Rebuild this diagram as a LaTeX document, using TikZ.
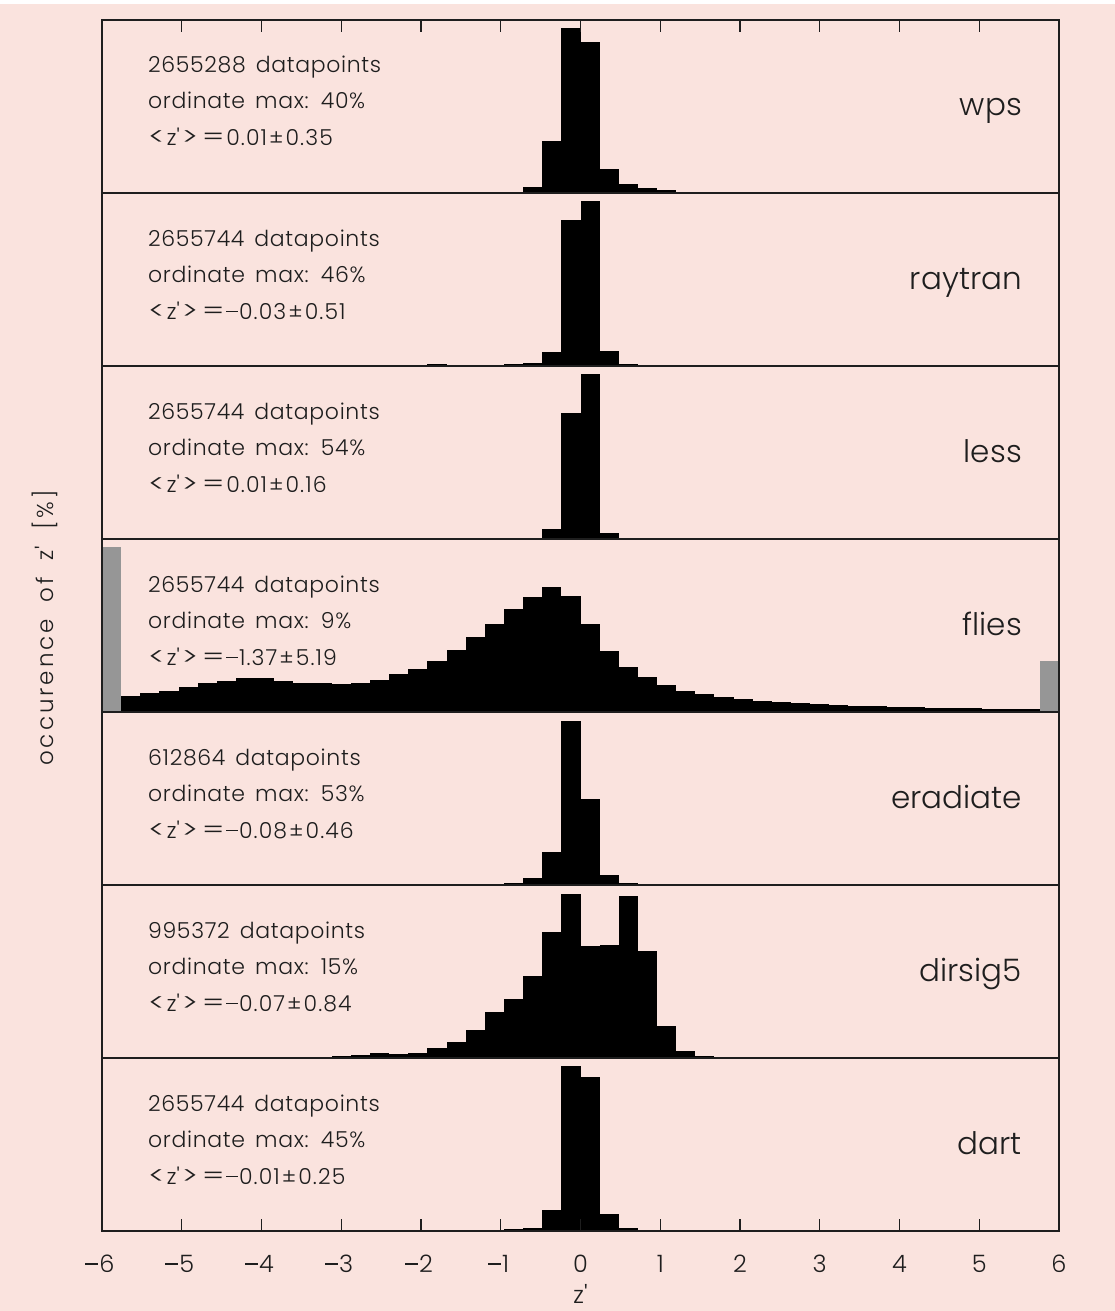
\documentclass[tikz,border=0pt]{standalone}
\usepackage{fontspec}
\usepackage{graphicx}
\setmainfont{Poppins Light}
\newfontfamily\infofont{Poppins Light}[LetterSpace=3,WordSpace=1.5]
\newfontfamily\meanfont{Poppins Light}[LetterSpace=5]
\newfontfamily\ylabfont{Poppins Light}[LetterSpace=13,WordSpace=1.8]
\definecolor{bgpink}{RGB}{250,227,222}
\definecolor{ink}{RGB}{30,30,30}
\definecolor{overflow}{RGB}{150,150,150}
\newcommand\histbars[2]{\foreach \k/\h in {#2}{\fill[bar] ({102+19.14*\k},#1) rectangle ({121.14+19.14*\k},{#1-\h});}}
\newcommand\mn{\raisebox{0.31em}{\rule{0.52em}{0.055em}}\hspace{0.06em}}
\newcommand\bigsym[1]{\scalebox{1.5}[1.12]{#1}}
\newcommand\lsym[1]{\kern2pt\bigsym{#1}\kern2pt}
\newcommand\pmm{\kern2pt±\kern2pt}
\tikzset{
  bar/.style={fill=black},
  ovbar/.style={fill=overflow},
  frame/.style={draw=ink,line width=1.1pt},
  infotext/.style={anchor=base west,inner sep=0pt,text=ink,font=\infofont\fontsize{22}{22}\selectfont},
  meantext/.style={anchor=base west,inner sep=0pt,text=ink,font=\meanfont\fontsize{22}{22}\selectfont},
  tagtext/.style={anchor=base east,inner sep=0pt,text=ink,font=\fontsize{31}{31}\selectfont},
  ticktext/.style={anchor=base,inner sep=0pt,text=ink,font=\fontsize{24}{24}\selectfont}
}
\newcommand\zq{z\textquotesingle}
\begin{document}
\begin{tikzpicture}[x=1pt,y=-1pt]
\useasboundingbox (0,0) rectangle (1115,1311);
\fill[bgpink] (0,0) rectangle (1115,1311);
\fill[white] (0,0) rectangle (1115,4);
% panel 0 wps
\histbars{193}{20/0.3,21/0.6,22/5.6,23/51.6,24/165,25/151.3,26/24.3,27/9.3,28/5,29/2.6,30/1.4,31/1,32/0.8,33/0.6,34/0.5,35/0.4,36/0.3}
% panel 1 raytran
\histbars{366}{15/0.6,16/1.4,17/2,18/1,19/1,20/1,21/1.7,22/3.4,23/13.7,24/146.4,25/164.7,26/15.4,27/2.4,28/1.3,29/1,30/0.7,31/0.5}
% panel 2 less
\histbars{539}{21/0.4,22/0.7,23/9.7,24/125.7,25/164.7,26/5.7,27/0.7,28/0.4}
% panel 3 flies
\fill[ovbar] (102,712) rectangle (121.14,547.3);
\fill[ovbar] (1039.9,712) rectangle (1059,660.7);
\histbars{712}{1/16.3,2/18.7,3/21.3,4/25.3,5/28.7,6/31.3,7/33.7,8/33.7,9/31.3,10/28.7,11/28.7,12/28,13/28.7,14/32,15/38,16/43.3,17/51.3,18/62,19/74.7,20/87.7,21/102.7,22/115.3,23/124.7,24/116,25/87.7,26/61.3,27/45.3,28/35.3,29/27,30/21.3,31/18,32/15.3,33/13,34/11.3,35/9.7,36/8.7,37/7.7,38/7,39/6.3,40/5.7,41/5.2,42/4.8,43/4.4,44/4,45/3.7,46/3.4,47/3.1,48/3}
% panel 4 eradiate
\histbars{885}{19/0.4,20/0.7,21/1.7,22/6.7,23/33.3,24/164.3,25/86.3,26/10,27/1.7,28/0.6,29/0.4,30/0.3}
% panel 5 dirsig5
\histbars{1058}{8/0.4,9/0.5,10/0.6,11/1,12/1.7,13/3.3,14/5,15/4.3,16/5.3,17/10.3,18/16.3,19/28,20/46.3,21/58.7,22/82.3,23/125.7,24/164,25/112,26/112.7,27/162.3,28/107,29/32,30/7.3,31/2.3,32/1.3,33/0.7,34/0.7,35/0.4}
% panel 6 dart
\histbars{1231}{19/0.4,20/0.7,21/1.6,22/2.6,23/21,24/164.6,25/154,26/17,27/2.6,28/1,29/0.5,30/0.4}
% frames
\draw[frame] (102,20) rectangle (1059,1231);
\foreach \yy in {193,366,539,712,885,1058}{\draw[frame] (102,\yy) -- (1059,\yy);}
% ticks
\foreach \t in {-5,...,5}{
  \draw[frame] ({580.5+79.75*\t},20) -- ({580.5+79.75*\t},32);
  \draw[frame] ({580.5+79.75*\t},1231) -- ({580.5+79.75*\t},1219);
}
% tick labels
\node[ticktext] (tm6) at (100,1272) {\mn6};
\node[ticktext] (tm5) at (179.75,1272) {\mn5};
\node[ticktext] (tm4) at (259.5,1272) {\mn4};
\node[ticktext] (tm3) at (339.25,1272) {\mn3};
\node[ticktext] (tm2) at (419,1272) {\mn2};
\node[ticktext] (tm1) at (498.75,1272) {\mn1};
\node[ticktext] (t0) at (580.5,1272) {0};
\node[ticktext] (t1) at (660.25,1272) {1};
\node[ticktext] (t2) at (740,1272) {2};
\node[ticktext] (t3) at (819.75,1272) {3};
\node[ticktext] (t4) at (899.5,1272) {4};
\node[ticktext] (t5) at (979.25,1272) {5};
\node[ticktext] (t6) at (1059,1272) {6};
\node[ticktext] (xlab) at (580.5,1303) {\zq};
\node[anchor=base west,inner sep=0pt,text=ink,font=\ylabfont\fontsize{23}{23}\selectfont,rotate=90] (ylab) at (53,766) {occurence of \zq{} [\%]};
% panel texts
\foreach \p/\n/\m/\z/\tg in {0/2655288/40/0.01\pmm0.35/wps,1/2655744/46/\mn0.03\pmm0.51/raytran,2/2655744/54/0.01\pmm0.16/less,3/2655744/9/\mn1.37\pmm5.19/flies,4/612864/53/\mn0.08\pmm0.46/eradiate,5/995372/15/\mn0.07\pmm0.84/dirsig5,6/2655744/45/\mn0.01\pmm0.25/dart}{
  \node[infotext] (na\p) at (148,{20+173*\p+53}) {\n\ datapoints};
  \node[infotext] (nb\p) at (148,{20+173*\p+89}) {ordinate max: \m\%};
  \node[meantext] (nc\p) at (148,{20+173*\p+126}) {\bigsym{<}\kern2pt\zq\lsym{>}\lsym{=}\z};
  \node[tagtext] (nt\p) at (1022,{20+173*\p+96}) {\tg};
}
\end{tikzpicture}
\end{document}
